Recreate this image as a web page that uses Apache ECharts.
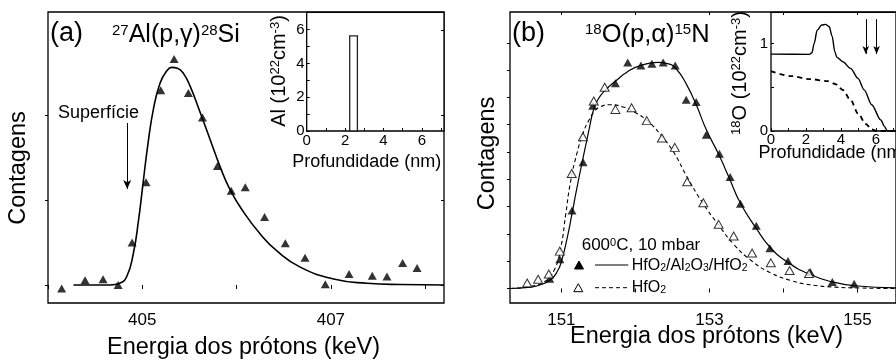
<!DOCTYPE html>
<html>
<head>
<meta charset="utf-8">
<script src="https://cdn.jsdelivr.net/npm/echarts@6/dist/echarts.min.js"></script>
<style>
html, body { margin: 0; padding: 0; background: #fff; }
#chart { width: 896px; height: 360px; }
</style>
</head>
<body>
<div id="chart"></div>
<script>
// ---------- (a) 27Al(p,gamma)28Si excitation curve ----------
const aPointEnergy = [404.145, 404.393, 404.584, 404.744, 404.892, 405.04, 405.196, 405.337, 405.489, 405.638, 405.797,
  405.943, 406.092, 406.297, 406.517, 406.726, 406.941, 407.193, 407.439, 407.595, 407.761, 407.914];
const aPointCounts = [-0.04, 0.055, 0.067, 0.0, 0.50, 1.21, 2.29, 2.66, 2.26, 1.97, 1.40,
  1.11, 1.15, 0.80, 0.49, 0.32, 0.01, 0.13, 0.11, 0.10, 0.26, 0.20];
const aFitEnergy = [404.27, 404.66, 404.76, 404.835, 404.905, 404.96, 405.0, 405.06, 405.12, 405.19,
  405.26, 405.313, 405.373, 405.436, 405.507, 405.614, 405.72, 405.826, 405.932, 406.073, 406.251, 406.428,
  406.675, 407.029, 407.383, 407.737, 408.2];
const aFitCounts = [0, 0, 0.02, 0.10, 0.37, 0.76, 1.12, 1.66, 2.08, 2.38,
  2.52, 2.56, 2.55, 2.49, 2.34, 2.03, 1.71, 1.39, 1.12, 0.86, 0.60, 0.40,
  0.21, 0.07, 0.02, 0.005, 0];
const aTickEnergy = [404, 405, 406, 407, 408];
const aLabelEnergy = [405, 407];
const aCountTicks = [0, 1, 2, 3];
// surface marker: energy, arrow start and end (counts)
const surfaceEnergy = 404.84;
const surfaceArrow = [1.906, 1.13];

// inset (a): Al depth profile (one box)
const alBoxStart = [2.24];
const alBoxEnd = [2.64];
const alBoxConc = [5.62];
const depthTicks = [0, 1, 2, 3, 4, 5, 6, 7];
const depthLabels = [0, 2, 4, 6];
const alTicks = [0, 1, 2, 3, 4, 5, 6, 7];
const alLabels = [0, 2, 4, 6];

// ---------- (b) 18O(p,alpha)15N excitation curves ----------
const bStackEnergy = [150.843, 150.979, 151.144, 151.293, 151.424, 151.73, 151.896, 152.074, 152.223, 152.375, 152.538,
  152.686, 152.821, 152.957, 153.135, 153.279, 153.419, 153.633, 153.816, 154.061, 154.362, 154.66, 154.955];
const bStackCounts = [0.36, 1.07, 2.86, 4.62, 6.69, 7.52, 8.28, 8.17, 8.23, 8.28, 8.17,
  6.91, 6.83, 5.63, 4.94, 4.08, 3.10, 2.30, 1.47, 1.01, 0.60, 0.24, 0.17];
const bHfoEnergy = [150.538, 150.686, 150.83, 150.979, 151.14, 151.291, 151.437, 151.585, 151.73, 151.948, 152.153,
  152.358, 152.532, 152.699, 152.917, 153.124, 153.327, 153.576, 153.829, 154.083, 154.345];
const bHfoCounts = [0.20, 0.34, 0.53, 1.37, 4.21, 5.56, 6.87, 7.37, 6.56, 6.62, 6.15,
  5.51, 5.17, 3.91, 3.14, 2.35, 1.92, 1.30, 0.94, 0.66, 0.55];
const bStackFitEnergy = [150.31, 150.55, 150.70, 150.86, 150.95, 151.0, 151.08, 151.144, 151.2, 151.262, 151.327,
  151.38, 151.43, 151.5, 151.6, 151.733, 151.909, 152.083, 152.302, 152.433, 152.55, 152.695, 152.826,
  152.957, 153.131, 153.262, 153.419, 153.633, 153.816, 154.048, 154.353, 154.66, 154.965, 155.52];
const bStackFitCounts = [0, 0.04, 0.12, 0.33, 0.65, 0.98, 1.87, 2.75, 3.55, 4.38, 5.22,
  5.9, 6.5, 6.95, 7.28, 7.6, 7.97, 8.18, 8.28, 8.24, 8.05, 7.45, 6.7,
  5.82, 4.88, 4.08, 3.12, 2.2, 1.52, 0.98, 0.52, 0.24, 0.1, 0.02];
const bHfoFitEnergy = [150.31, 150.555, 150.773, 150.904, 150.992, 151.058, 151.123, 151.21, 151.30, 151.38, 151.45,
  151.53, 151.647, 151.821, 151.995, 152.171, 152.345, 152.519, 152.695, 152.912, 153.122, 153.327, 153.576,
  153.829, 154.091, 154.353, 154.703, 155.0, 155.52];
const bHfoFitCounts = [0, 0.07, 0.25, 0.68, 1.5, 2.7, 3.9, 4.95, 5.75, 6.2, 6.5,
  6.66, 6.73, 6.66, 6.45, 6.12, 5.62, 4.98, 4.1, 3.12, 2.33, 1.62, 1.0,
  0.57, 0.3, 0.14, 0.05, 0.02, 0];
const bTickEnergy = [151, 152, 153, 154, 155];
const bLabelEnergy = [151, 153, 155];
const bCountTicks = [0, 1, 2, 3, 4, 5, 6, 7, 8, 9];

// inset (b): 18O depth profiles
const oStackDepth = [0, 2.2, 2.34, 2.47, 2.64, 2.9, 3.12, 3.33, 3.5, 3.65, 3.77, 4.11, 4.55, 4.98, 5.33, 5.76, 6.28, 6.5, 6.65, 7.15];
const oStackConc = [0.878, 0.875, 0.894, 1.0, 1.15, 1.21, 1.217, 1.19, 1.08, 0.905, 0.84, 0.79, 0.715, 0.60, 0.47, 0.30, 0.125, 0.05, 0, 0];
const oHfoDepth = [0, 1.16, 2.2, 3.25, 3.68, 4.11, 4.55, 4.98, 5.42, 5.76, 6.02, 7.15];
const oHfoConc = [0.684, 0.627, 0.593, 0.570, 0.536, 0.468, 0.354, 0.20, 0.08, 0.02, 0, 0];
const oTicks = [0, 0.5, 1];
const oLabels = [0, 1];
const interfaceDepths = [5.42, 6.04];
const interfaceArrow = [1.277, 0.88];

// ---------- helpers ----------
const FONT = 'Liberation Sans, Arial, Helvetica, sans-serif';
const zip = (xs, ys) => xs.map((x, i) => [x, ys[i]]);

function valueAxis(gridIndex, min, max, ticks, labels, opts) {
  opts = opts || {};
  return {
    type: 'value', gridIndex: gridIndex, min: min, max: max,
    position: opts.position,
    axisLine: { show: false },
    splitLine: { show: false },
    axisTick: {
      show: true, inside: !!opts.inside, length: opts.tickLen || 4,
      customValues: ticks, lineStyle: { color: '#000', width: 1 }
    },
    axisLabel: labels ? {
      show: true, customValues: labels, color: '#000', fontFamily: FONT,
      fontSize: opts.fontSize || 17, margin: opts.margin == null ? 9 : opts.margin,
      formatter: v => String(v)
    } : { show: false }
  };
}

function txt(x, y, text, size, extra) {
  return Object.assign({
    type: 'text', x: x, y: y, silent: true, z: 50,
    style: Object.assign({
      text: text, fill: '#000', fontFamily: FONT, fontSize: size,
      textAlign: 'left', textVerticalAlign: 'middle'
    }, (extra && extra.style) || {})
  }, extra && extra.rotation ? { rotation: extra.rotation } : {});
}

function richStyles(main, small) {
  return {
    m: { fontSize: main, fontFamily: FONT, lineHeight: main, verticalAlign: 'bottom', fill: '#000' },
    sup: { fontSize: small, fontFamily: FONT, lineHeight: small, verticalAlign: 'top', fill: '#000' },
    sub: { fontSize: small, fontFamily: FONT, lineHeight: 3, verticalAlign: 'bottom', fill: '#000' }
  };
}

function richText(x, y, text, main, small, opts) {
  opts = opts || {};
  const el = {
    type: 'text', x: x, y: y, silent: true, z: 50,
    style: {
      text: text, rich: richStyles(main, small), fill: '#000',
      fontFamily: FONT, fontSize: main,
      textAlign: opts.align || 'left', textVerticalAlign: 'middle'
    }
  };
  if (opts.rotation) el.rotation = opts.rotation;
  return el;
}

function tri(cx, cy, filled) {
  return {
    type: 'polygon', silent: true, z: 50,
    shape: { points: [[cx - 4.5, cy + 4], [cx + 4.5, cy + 4], [cx, cy - 4]] },
    style: { fill: filled ? '#000' : '#fff', stroke: '#000', lineWidth: 1 }
  };
}

const chart = echarts.init(document.getElementById('chart'), null, { renderer: 'canvas' });

const gridBase = { show: true, borderColor: '#000', borderWidth: 1.3, backgroundColor: 'transparent', containLabel: false };

const option = {
  animation: false,
  backgroundColor: '#fff',
  textStyle: { fontFamily: FONT },
  grid: [
    Object.assign({}, gridBase, { left: 48, top: 12, width: 396, height: 291 }),
    Object.assign({}, gridBase, { left: 306.7, top: 12.3, width: 137.3, height: 118.7, backgroundColor: '#fff' }),
    Object.assign({}, gridBase, { left: 510, top: 12, width: 398, height: 291 }),
    Object.assign({}, gridBase, { left: 771, top: 12.3, width: 137.3, height: 118.7, backgroundColor: '#fff' })
  ],
  xAxis: [
    valueAxis(0, 404, 408.2, aTickEnergy, aLabelEnergy, { position: 'bottom', tickLen: 4, margin: 9 }),
    valueAxis(0, 404, 408.2, aTickEnergy, null, { position: 'top', inside: true, tickLen: 3 }),
    valueAxis(1, 0, 7.15, depthTicks, depthLabels, { position: 'bottom', inside: true, tickLen: 3, fontSize: 15, margin: 2 }),
    valueAxis(2, 150.306, 155.52, bTickEnergy, bLabelEnergy, { position: 'bottom', tickLen: 4, margin: 9 }),
    valueAxis(2, 150.306, 155.52, bTickEnergy, null, { position: 'top', inside: true, tickLen: 3 }),
    valueAxis(3, 0, 7.15, depthTicks, depthLabels, { position: 'bottom', inside: true, tickLen: 3, fontSize: 15, margin: 1 })
  ],
  yAxis: [
    valueAxis(0, -0.212, 3.212, aCountTicks.slice(0, 3), null, { position: 'left', tickLen: 3 }),
    valueAxis(0, -0.212, 3.212, aCountTicks, null, { position: 'right', inside: true, tickLen: 3 }),
    valueAxis(1, 0, 7.02, alTicks, alLabels, { position: 'left', inside: true, tickLen: 3, fontSize: 15, margin: 2 }),
    valueAxis(2, -0.531, 10.128, bCountTicks, null, { position: 'left', tickLen: 3 }),
    valueAxis(3, 0, 1.355, oTicks, oLabels, { position: 'left', inside: true, tickLen: 3, fontSize: 15, margin: 3 })
  ],
  series: [
    {
      name: 'Al data', type: 'scatter', xAxisIndex: 0, yAxisIndex: 0,
      data: zip(aPointEnergy, aPointCounts),
      symbol: 'triangle', symbolSize: [9, 8], itemStyle: { color: '#000' }, z: 4
    },
    {
      name: 'Al fit', type: 'line', xAxisIndex: 0, yAxisIndex: 0,
      data: zip(aFitEnergy, aFitCounts), showSymbol: false, symbol: 'none',
      smooth: 0.5,
      lineStyle: { color: '#000', width: 1.6 }, z: 3,
      markLine: {
        silent: true, symbol: ['none', 'arrow'], symbolSize: [6, 9], animation: false,
        label: { show: false }, lineStyle: { color: '#000', width: 1, type: 'solid' },
        emphasis: { disabled: true },
        data: [[{ coord: [surfaceEnergy, surfaceArrow[0]] }, { coord: [surfaceEnergy, surfaceArrow[1]] }]]
      }
    },
    {
      name: 'Al profile', type: 'custom', xAxisIndex: 2, yAxisIndex: 2,
      data: alBoxStart.map((s, i) => [s, alBoxEnd[i], alBoxConc[i]]),
      encode: { x: [0, 1], y: 2 },
      renderItem: function (params, api) {
        const p0 = api.coord([api.value(0), api.value(2)]);
        const p1 = api.coord([api.value(1), 0]);
        return {
          type: 'rect',
          shape: { x: p0[0], y: p0[1], width: p1[0] - p0[0], height: p1[1] - p0[1] },
          style: { fill: '#fff', stroke: '#222', lineWidth: 1.3 }
        };
      }
    },
    {
      name: 'HfO2/Al2O3/HfO2', type: 'scatter', xAxisIndex: 3, yAxisIndex: 3,
      data: zip(bStackEnergy, bStackCounts),
      symbol: 'triangle', symbolSize: [9, 8], itemStyle: { color: '#000' }, z: 5
    },
    {
      name: 'HfO2', type: 'scatter', xAxisIndex: 3, yAxisIndex: 3,
      data: zip(bHfoEnergy, bHfoCounts),
      symbol: 'triangle', symbolSize: [9, 8],
      itemStyle: { color: '#fff', borderColor: '#000', borderWidth: 1 }, z: 5
    },
    {
      name: 'HfO2/Al2O3/HfO2 fit', type: 'line', xAxisIndex: 3, yAxisIndex: 3,
      data: zip(bStackFitEnergy, bStackFitCounts), showSymbol: false, symbol: 'none',
      smooth: 0.5,
      lineStyle: { color: '#000', width: 1.2 }, z: 3
    },
    {
      name: 'HfO2 fit', type: 'line', xAxisIndex: 3, yAxisIndex: 3,
      data: zip(bHfoFitEnergy, bHfoFitCounts), showSymbol: false, symbol: 'none',
      smooth: 0.5,
      lineStyle: { color: '#000', width: 1.1, type: [4, 3] }, z: 3
    },
    {
      name: '18O stack', type: 'line', xAxisIndex: 5, yAxisIndex: 4,
      data: zip(oStackDepth, oStackConc), showSymbol: false, symbol: 'none',
      smooth: 0.3, smoothMonotone: 'x',
      lineStyle: { color: '#000', width: 1.4 }, z: 6,
      markLine: {
        silent: true, symbol: ['none', 'arrow'], symbolSize: [5, 8], animation: false,
        label: { show: false }, lineStyle: { color: '#000', width: 1, type: 'solid' },
        emphasis: { disabled: true },
        data: interfaceDepths.map(d => [{ coord: [d, interfaceArrow[0]] }, { coord: [d, interfaceArrow[1]] }])
      }
    },
    {
      name: '18O HfO2', type: 'line', xAxisIndex: 5, yAxisIndex: 4,
      data: zip(oHfoDepth, oHfoConc), showSymbol: false, symbol: 'none',
      smooth: 0.3, smoothMonotone: 'x',
      lineStyle: { color: '#000', width: 1.8, type: [5, 4] }, z: 6
    }
  ],
  graphic: [
    // panel (a)
    txt(50, 33.5, '(a)', 27),
    richText(112, 35.5, '{sup|27}{m|Al(p,γ)}{sup|28}{m|Si}', 25, 15),
    txt(58, 113, 'Superfície', 18),
    txt(19, 168, 'Contagens', 23.5, { rotation: Math.PI / 2, style: { textAlign: 'center' } }),
    txt(243.5, 348, 'Energia dos prótons (keV)', 23.5, { style: { textAlign: 'center' } }),
    richText(279, 71, '{m|Al (10}{sup|22}{m|cm}{sup|-3}{m|)}', 20, 13, { align: 'center', rotation: Math.PI / 2 }),
    txt(366.7, 161.7, 'Profundidade (nm)', 18, { style: { textAlign: 'center' } }),
    // panel (b)
    txt(512, 33.5, '(b)', 27),
    richText(585, 35.5, '{sup|18}{m|O(p,α)}{sup|15}{m|N}', 25.5, 15),
    txt(488, 153.5, 'Contagens', 23.5, { rotation: Math.PI / 2, style: { textAlign: 'center' } }),
    txt(706.5, 337, 'Energia dos prótons (keV)', 23.5, { style: { textAlign: 'center' } }),
    richText(740, 73, '{sup|18}{m|O (10}{sup|22}{m|cm}{sup|-3}{m|)}', 20, 13, { align: 'center', rotation: Math.PI / 2 }),
    txt(833, 153.5, 'Profundidade (nm)', 18, { style: { textAlign: 'center' } }),
    // legend of panel (b)
    richText(581.7, 245.7, '{m|600}{sup|0}{m|C, 10 mbar}', 17, 11),
    tri(579, 265, true),
    { type: 'line', silent: true, z: 50, shape: { x1: 595, y1: 265, x2: 628.3, y2: 265 }, style: { stroke: '#000', lineWidth: 1 } },
    richText(631.7, 265.5, '{m|HfO}{sub|2}{m|/Al}{sub|2}{m|O}{sub|3}{m|/HfO}{sub|2}', 16, 10.5),
    tri(578.3, 287.7, false),
    { type: 'line', silent: true, z: 50, shape: { x1: 595, y1: 287.7, x2: 628.3, y2: 287.7 }, style: { stroke: '#000', lineWidth: 1, lineDash: [4, 3] } },
    richText(631.7, 287.5, '{m|HfO}{sub|2}', 16, 10.5)
  ]
};

chart.setOption(option);
</script>
</body>
</html>
